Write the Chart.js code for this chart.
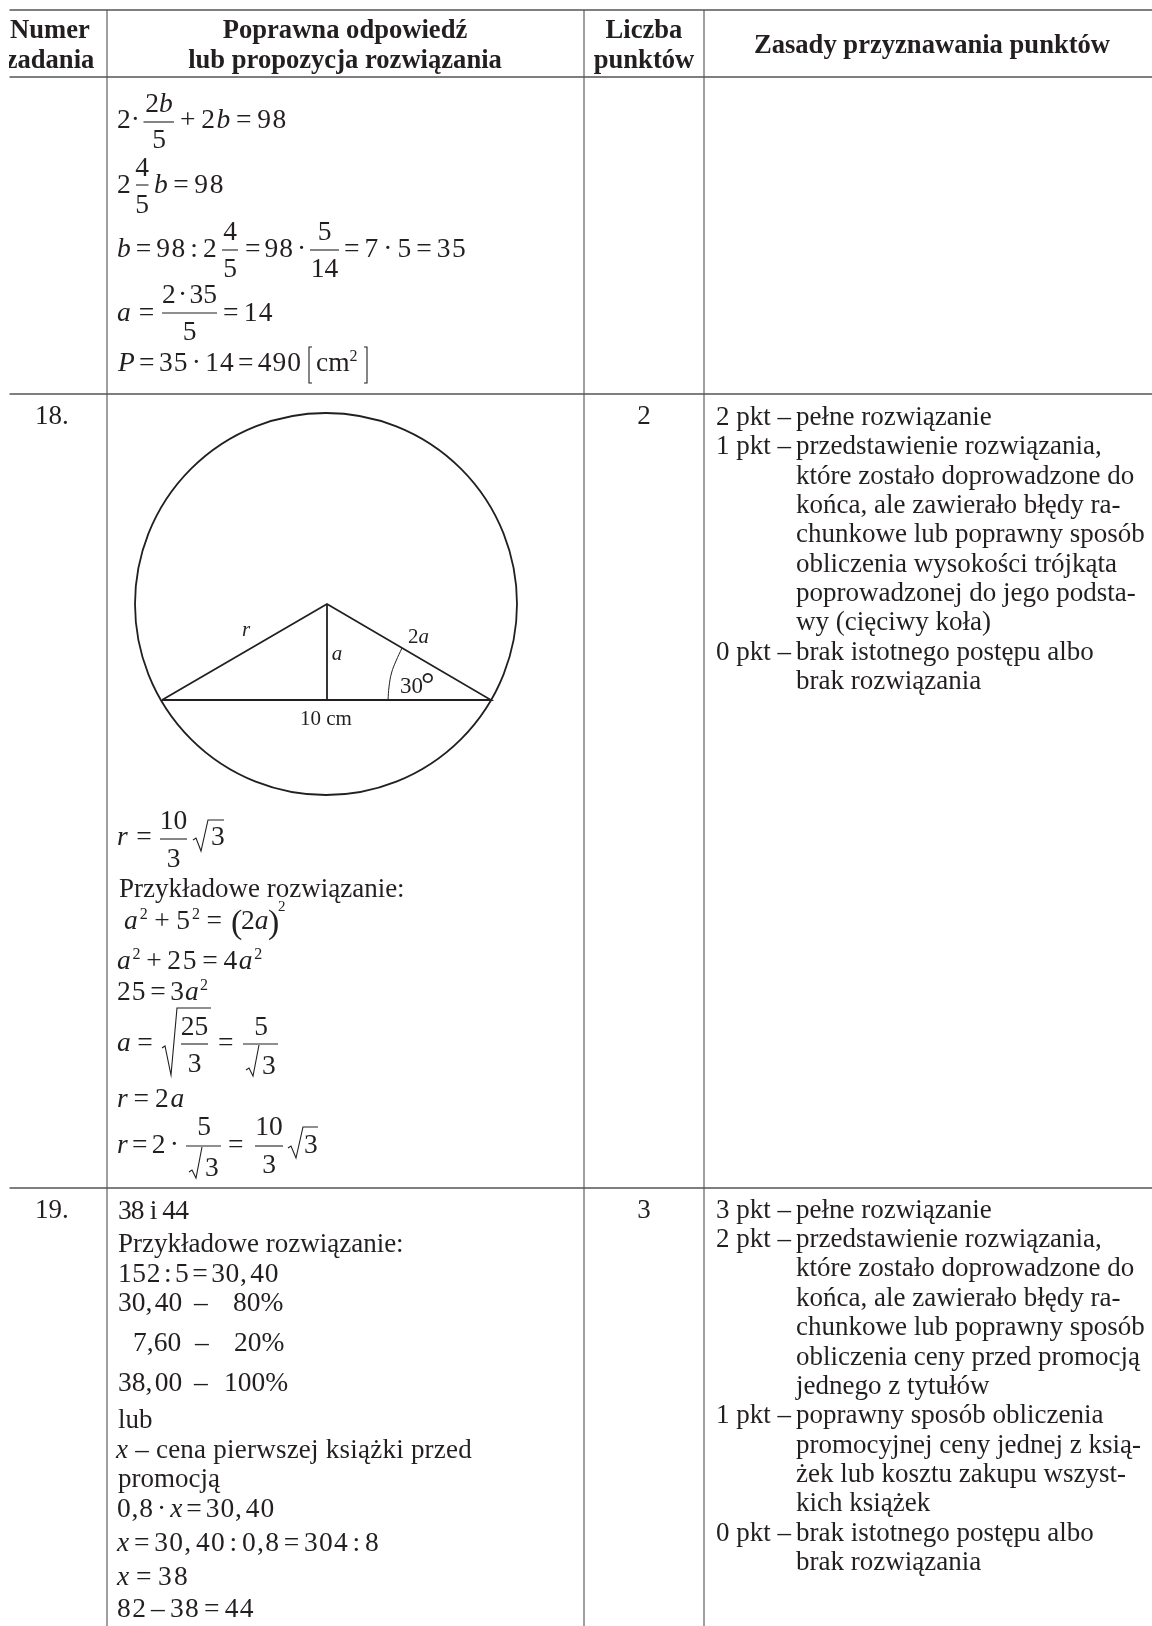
<!DOCTYPE html>
<html lang="pl">
<head>
<meta charset="utf-8">
<title>Zasady przyznawania punktów</title>
<script src="https://cdn.jsdelivr.net/npm/chart.js@4"></script>
<style>
  html, body { margin: 0; padding: 0; background: #fff; }
  canvas { display: block; }
</style>
</head>
<body>
<canvas id="page" width="1152" height="1626"></canvas>
<script>
// --- table rules ---
const rowRules = [10, 77, 394, 1188];
const columnRules = [107, 584, 704];

// --- figure for task 18 ---
const circleCentre = [{ x: 326, y: 604 }];
const triangle = [[162, 700], [327, 604], [491, 700], [162, 700]];
const triangleHeight = [[327, 604], [327, 700]];
const angleArc = [[388, 700], [389, 687], [391.5, 673], [396, 661], [402, 648]];

// --- fraction bars, radicals, brackets ---
const mathStrokes = [
  [[143.5, 122], [174, 122]],
  [[136, 185], [148.5, 185]],
  [[222, 250], [238, 250]],
  [[310, 250], [339, 250]],
  [[162, 313], [217, 313]],
  [[312, 347], [309, 347], [309, 383], [312, 383]],
  [[364, 347], [367, 347], [367, 383], [364, 383]],
  [[160, 839], [187, 839]],
  [[193, 840], [196, 838], [201, 851], [208, 820], [224, 820]],
  [[162, 1048], [165, 1046], [171, 1075], [177, 1008], [211, 1008]],
  [[181, 1044], [208, 1044]],
  [[243, 1044], [278, 1044]],
  [[246, 1070], [249, 1068], [253, 1076], [259, 1045]],
  [[186, 1146], [221, 1146]],
  [[189, 1172], [192, 1170], [196, 1178], [202, 1147]],
  [[255, 1146], [283, 1146]],
  [[288, 1148], [291, 1146], [296, 1158], [303, 1127], [318, 1127]]
];

// --- text ---
const headerLines = [
  [50, 38, 'Numer'], [50, 68, 'zadania'],
  [345, 38, 'Poprawna odpowiedź'], [345, 68, 'lub propozycja rozwiązania'],
  [644, 38, 'Liczba'], [644, 68, 'punktów'],
  [932, 53, 'Zasady przyznawania punktów']
];
const taskNumbers = ['18.', '19.'];
const taskNumberY = [424, 1218];
const taskPoints = ['2', '3'];

const scoringLabels18 = ['2 pkt –', '1 pkt –', '', '', '', '', '', '', '0 pkt –', ''];
const scoringText18 = [
  'pełne rozwiązanie',
  'przedstawienie rozwiązania,',
  'które zostało doprowadzone do',
  'końca, ale zawierało błędy ra-',
  'chunkowe lub poprawny sposób',
  'obliczenia wysokości trójkąta',
  'poprowadzonej do jego podsta-',
  'wy (cięciwy koła)',
  'brak istotnego postępu albo',
  'brak rozwiązania'
];
const scoringY18 = [425, 454, 484, 513, 542, 572, 601, 630, 660, 689];

const scoringLabels19 = ['3 pkt –', '2 pkt –', '', '', '', '', '', '1 pkt –', '', '', '', '0 pkt –', ''];
const scoringText19 = [
  'pełne rozwiązanie',
  'przedstawienie rozwiązania,',
  'które zostało doprowadzone do',
  'końca, ale zawierało błędy ra-',
  'chunkowe lub poprawny sposób',
  'obliczenia ceny przed promocją',
  'jednego z tytułów',
  'poprawny sposób obliczenia',
  'promocyjnej ceny jednej z ksią-',
  'żek lub kosztu zakupu wszyst-',
  'kich książek',
  'brak istotnego postępu albo',
  'brak rozwiązania'
];
const scoringY19 = [1218, 1247, 1276, 1306, 1335, 1365, 1394, 1423, 1453, 1482, 1511, 1541, 1570];

// x, baseline, text (_italic_, ^superscript^), options
const T = '\u200a';
const answerRuns = [
  [117, 128, '2·'],
  [159, 112, '2_b_', { c: 1 }], [159, 148, '5', { c: 1 }],
  [180, 128, `+${T}2_b_${T}=${T}98`, { w: 108 }],
  [117, 193, '2'], [142, 176, '4', { c: 1 }], [142, 213, '5', { c: 1 }],
  [154, 193, `_b_${T}=${T}98`, { w: 71 }],
  [117, 257, `_b_${T}=${T}98${T}:${T}2`, { w: 101 }],
  [230, 240, '4', { c: 1 }], [230, 277, '5', { c: 1 }],
  [245, 257, `=${T}98${T}·`, { w: 62 }],
  [324.5, 240, '5', { c: 1 }], [324.5, 277, '14', { c: 1 }],
  [344, 257, `=${T}7${T}·${T}5${T}=${T}35`, { w: 123 }],
  [117, 321, `_a_${T}=`, { w: 40 }],
  [189.5, 303, `2${T}·${T}35`, { c: 1 }], [189.5, 340, '5', { c: 1 }],
  [223, 321, `=${T}14`, { w: 51 }],
  [118, 371, `_P_${T}=${T}35${T}·${T}14${T}=${T}490`, { w: 184 }],
  [316, 371, 'cm^2^'],

  [117, 845, `_r_${T}=`, { w: 38 }],
  [173.5, 829, '10', { c: 1 }], [173.5, 867, '3', { c: 1 }], [211, 845, '3'],
  [119, 897, 'Przykładowe rozwiązanie:', { s: 27 }],
  [124, 929, `_a_^2^${T}+${T}5^2^${T}=`, { w: 100 }],
  [231, 933, '(', { s: 34 }], [241, 929, '2_a_'], [268, 933, ')', { s: 34 }],
  [278, 911, '2', { s: 15 }],
  [117, 969, `_a_^2^${T}+${T}25${T}=${T}4_a_^2^`, { w: 147 }],
  [117, 1000, `25${T}=${T}3_a_^2^`, { w: 92 }],
  [117, 1051, `_a_${T}=`, { w: 38 }],
  [194.5, 1035, '25', { c: 1 }], [194.5, 1072, '3', { c: 1 }],
  [218, 1051, '='],
  [261, 1035, '5', { c: 1 }], [262, 1074, '3'],
  [117, 1107, `_r_${T}=${T}2_a_`, { w: 69 }],
  [117, 1153, `_r_${T}=${T}2${T}·`, { w: 63 }],
  [204, 1135, '5', { c: 1 }], [205, 1176, '3'],
  [228, 1153, '='],
  [269, 1135, '10', { c: 1 }], [269, 1173, '3', { c: 1 }], [304, 1153, '3'],

  [118, 1219, '38 i 44', { w: 70 }],
  [118, 1252, 'Przykładowe rozwiązanie:', { s: 27 }],
  [118, 1282, `152${T}:${T}5${T}=${T}30,${T}40`, { w: 161 }],
  [118, 1311, `30,${T}40`], [194, 1311, '–'], [233, 1311, '80%'],
  [133, 1351, '7,60'], [195, 1351, '–'], [234, 1351, '20%'],
  [118, 1391, `38,${T}00`], [194, 1391, '–'], [224, 1391, '100%'],
  [118, 1428, 'lub', { s: 27 }],
  [116, 1458, '_x_ – cena pierwszej książki przed', { w: 356, s: 27 }],
  [118, 1487, 'promocją', { s: 27 }],
  [117, 1517, `0,8${T}·${T}_x_${T}=${T}30,${T}40`, { w: 158 }],
  [117, 1551, `_x_${T}=${T}30,${T}40${T}:${T}0,8${T}=${T}304${T}:${T}8`, { w: 263 }],
  [117, 1585, `_x_${T}=${T}38`, { w: 73 }],
  [117, 1617, `82${T}–${T}38${T}=${T}44`, { w: 138 }]
];

// labels inside the circle figure
const figureRuns = [
  [246, 636, '_r_', { c: 1 }],
  [337, 660, '_a_', { c: 1 }],
  [408, 643, '2_a_'],
  [400, 693, '30', { s: 23 }],
  [421, 695, '°', { s: 34 }],
  [326, 725, '10 cm', { c: 1 }]
];

const INK = '#231f20';
const ROW_RULE = '#555555';
const COLUMN_RULE = '#808080';
const FONT = '"Liberation Serif", "Times New Roman", serif';

function line(points, color, width, extra) {
  return Object.assign({
    data: points.map(p => ({ x: p[0], y: p[1] })),
    showLine: true,
    pointRadius: 0,
    borderColor: color,
    borderWidth: width,
    fill: false
  }, extra || {});
}

function drawRuns(ctx, x, y, text, size, opts) {
  opts = opts || {};
  const weight = opts.b ? 'bold ' : '';
  const parts = text.split(/(_[^_]+_|\^[^^]+\^)/).filter(Boolean).map(p => {
    if (p[0] === '_') return { t: p.slice(1, -1), font: `italic ${weight}${size}px ${FONT}`, dy: 0 };
    if (p[0] === '^') return { t: p.slice(1, -1), font: `${weight}${Math.round(size * 0.58)}px ${FONT}`, dy: -size * 0.37 };
    return { t: p, font: `${weight}${size}px ${FONT}`, dy: 0 };
  });
  ctx.letterSpacing = '0px';
  let natural = 0;
  let count = 0;
  parts.forEach(p => {
    ctx.font = p.font;
    natural += ctx.measureText(p.t).width;
    count += p.t.length;
  });
  const spacing = opts.w ? (opts.w - natural) / count : 0;
  const total = natural + spacing * count;
  let cx = opts.c ? x - total / 2 : x;
  ctx.letterSpacing = spacing.toFixed(3) + 'px';
  parts.forEach(p => {
    ctx.font = p.font;
    ctx.fillText(p.t, cx, y + p.dy);
    cx += ctx.measureText(p.t).width;
  });
  ctx.letterSpacing = '0px';
}

const pageText = {
  id: 'pageText',
  afterDatasetsDraw(chart) {
    const ctx = chart.ctx;
    const sx = chart.scales.x;
    const sy = chart.scales.y;
    const put = (x, y, t, size, opts) => drawRuns(ctx, sx.getPixelForValue(x), sy.getPixelForValue(y), t, size, opts);
    ctx.save();
    ctx.beginPath();
    ctx.rect(9, 0, 1143, 1626); // the scan cuts off the left edge
    ctx.clip();
    ctx.fillStyle = INK;
    ctx.textBaseline = 'alphabetic';
    ctx.textAlign = 'left';

    headerLines.forEach(h => put(h[0], h[1], h[2], 26.6, { b: 1, c: 1 }));
    taskNumbers.forEach((n, i) => put(35, taskNumberY[i], n, 27));
    taskPoints.forEach((n, i) => put(644, taskNumberY[i], n, 27, { c: 1 }));

    scoringText18.forEach((t, i) => {
      if (scoringLabels18[i]) put(716, scoringY18[i], scoringLabels18[i], 27);
      put(796, scoringY18[i], t, 27);
    });
    scoringText19.forEach((t, i) => {
      if (scoringLabels19[i]) put(716, scoringY19[i], scoringLabels19[i], 27);
      put(796, scoringY19[i], t, 27);
    });

    answerRuns.forEach(r => put(r[0], r[1], r[2], (r[3] && r[3].s) || 27.5, r[3]));
    figureRuns.forEach(r => put(r[0], r[1], r[2], (r[3] && r[3].s) || 21, r[3]));
    ctx.restore();
  }
};

const datasets = [];
rowRules.forEach(y => datasets.push(line([[9.5, y], [1152, y]], ROW_RULE, 1.4)));
columnRules.forEach(x => datasets.push(line([[x, 10], [x, 1626]], COLUMN_RULE, 1.5)));
datasets.push({
  data: circleCentre,
  pointRadius: 191,
  pointBorderWidth: 1.8,
  pointBorderColor: INK,
  pointBackgroundColor: 'rgba(0,0,0,0)',
  showLine: false
});
datasets.push(line(triangle, INK, 1.8));
datasets.push(line(triangleHeight, INK, 1.8));
datasets.push(line(angleArc, INK, 1, { tension: 0.4 }));
mathStrokes.forEach(s => datasets.push(line(s, INK, 1.1)));

new Chart(document.getElementById('page').getContext('2d'), {
  type: 'scatter',
  data: { datasets: datasets },
  options: {
    responsive: false,
    animation: false,
    devicePixelRatio: 1,
    layout: { autoPadding: false, padding: 0 },
    plugins: { legend: { display: false }, tooltip: { enabled: false } },
    scales: {
      x: { type: 'linear', min: 0, max: 1152, display: false },
      y: { type: 'linear', min: 0, max: 1626, reverse: true, display: false }
    }
  },
  plugins: [pageText]
});
</script>
</body>
</html>
